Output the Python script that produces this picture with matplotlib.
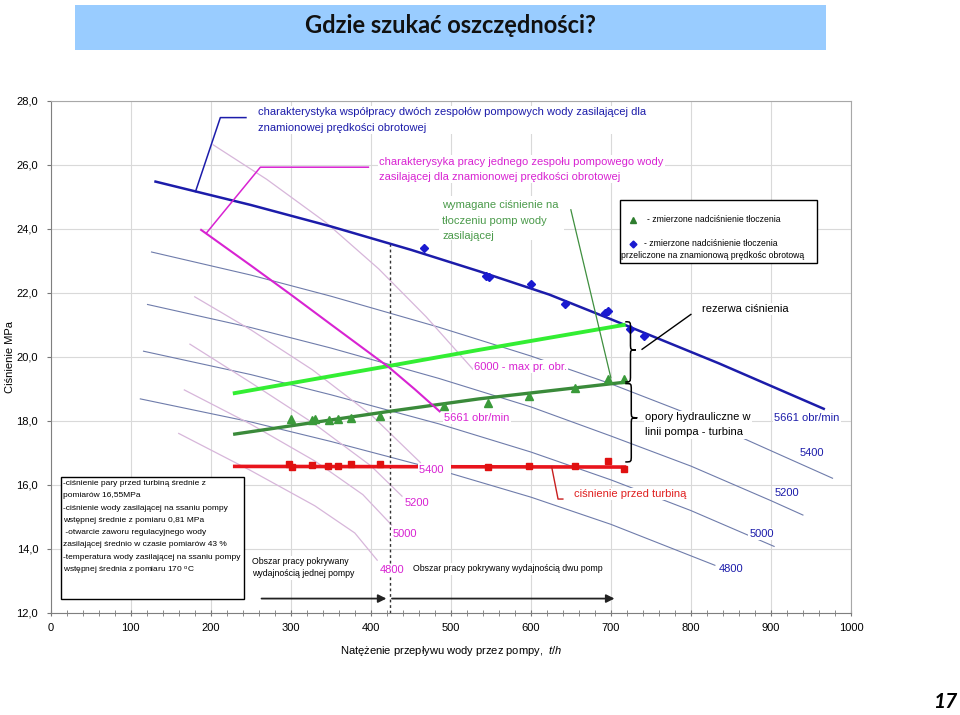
import matplotlib
matplotlib.use('Agg')
import matplotlib.pyplot as plt
from matplotlib.patches import Rectangle, PathPatch
from matplotlib.path import Path
from matplotlib.ticker import FuncFormatter, MultipleLocator

plt.rcParams['font.family'] = ['Liberation Sans', 'DejaVu Sans']
plt.rcParams['mathtext.fontset'] = 'custom'
plt.rcParams['mathtext.rm'] = 'Liberation Sans'
plt.rcParams['mathtext.it'] = 'Liberation Sans:italic'

# charakterystyki dwóch pomp (przepływ t/h, ciśnienie MPa)
q2_5661 = [131, 250, 350, 450, 535, 623, 700, 835, 966]
h2_5661 = [25.48, 24.75, 24.08, 23.35, 22.68, 21.95, 21.18, 19.8, 18.38]
q2_5400 = [126, 250, 350, 485, 600, 700, 800, 900, 977]
h2_5400 = [23.28, 22.56, 21.9, 20.93, 20.03, 19.16, 18.19, 17.07, 16.21]
q2_5200 = [121, 250, 350, 485, 600, 700, 800, 900, 940]
h2_5200 = [21.64, 20.92, 20.28, 19.33, 18.44, 17.53, 16.59, 15.51, 15.06]
q2_5000 = [116, 250, 350, 485, 600, 700, 800, 904]
h2_5000 = [20.18, 19.45, 18.82, 17.91, 17.03, 16.16, 15.2, 14.08]
q2_4800 = [112, 250, 350, 485, 600, 700, 830]
h2_4800 = [18.69, 17.97, 17.36, 16.47, 15.62, 14.77, 13.49]

# charakterystyki jednej pompy
q1_6000 = [203, 270, 344, 410, 469, 530]
h1_6000 = [26.63, 25.55, 24.2, 22.75, 21.26, 19.55]
q1_5661 = [188, 250, 300, 350, 423, 455, 486]
h1_5661 = [23.97, 22.86, 21.95, 21.02, 19.67, 18.99, 18.3]
q1_5400 = [180, 250, 327, 400, 462]
h1_5400 = [21.88, 20.85, 19.6, 18.2, 16.7]
q1_5200 = [174, 250, 330, 400, 439]
h1_5200 = [20.4, 19.2, 17.9, 16.6, 15.65]
q1_5000 = [167, 250, 330, 390, 426]
h1_5000 = [18.97, 17.9, 16.75, 15.7, 14.75]
q1_4800 = [160, 250, 330, 380, 408]
h1_4800 = [17.61, 16.45, 15.35, 14.5, 13.65]

# wymagane / zmierzone / przed turbiną
q_req = [230, 423, 535, 716]
h_req = [18.87, 19.72, 20.22, 21.0]
q_fit = [230, 423, 535, 717]
h_fit = [17.59, 18.3, 18.69, 19.21]
q_turb = [230, 717]
h_turb = [16.58, 16.56]
q_meas = [300, 327, 330, 348, 359, 375, 412, 491, 547, 598, 655, 697, 717]
h_meas = [18.06, 18.03, 18.07, 18.03, 18.05, 18.08, 18.17, 18.47, 18.57, 18.78, 19.04, 19.31, 19.31]
q_conv = [467, 544, 548, 600, 643, 693, 696, 724, 742]
h_conv = [23.42, 22.54, 22.5, 22.29, 21.67, 21.38, 21.43, 20.86, 20.67]
q_tsq = [298, 301, 327, 347, 359, 375, 412, 547, 598, 655, 696, 717]
h_tsq = [16.65, 16.55, 16.63, 16.6, 16.6, 16.64, 16.66, 16.57, 16.6, 16.6, 16.75, 16.51]

BLUE = '#1c1caa'
MAG = '#d823d2'
GREY = '#6f7cab'
PINK = '#d7b6da'
GREEN_T = '#4a9a4a'

fig = plt.figure(figsize=(9.6, 7.15), dpi=100)

# baner z tytułem
fig.patches.append(Rectangle((0.078, 0.930), 0.782, 0.063, transform=fig.transFigure,
                             fc='#99ccff', ec='none'))
fig.text(0.469, 0.965, 'Gdzie szukać oszczędności?', ha='center', va='center',
         fontsize=17, fontweight='bold', family=['Lato', 'DejaVu Sans'], color='#111111')
fig.text(0.997, 0.004, '17', ha='right', va='bottom', fontsize=15, fontweight='bold',
         fontstyle='italic', family=['Lato', 'DejaVu Sans'])

ax = fig.add_axes([0.0528, 0.1427, 0.8336, 0.7161])
ax.set_xlim(0, 1000)
ax.set_ylim(12, 28)
ax.set_axisbelow(True)
ax.grid(True, color='#d9d9d9', lw=0.8)
ax.xaxis.set_major_locator(MultipleLocator(100))
ax.xaxis.set_minor_locator(MultipleLocator(20))
ax.yaxis.set_major_locator(MultipleLocator(2))
ax.yaxis.set_major_formatter(FuncFormatter(lambda v, p: f'{v:.1f}'.replace('.', ',')))
ax.tick_params(axis='x', which='both', direction='inout', length=4, color='#777777',
               labelsize=8, pad=5)
ax.tick_params(axis='y', direction='out', length=3, color='#777777', labelsize=8, pad=6)
for s in ['left', 'bottom']:
    ax.spines[s].set_color('#7f7f7f')
for s in ['top', 'right']:
    ax.spines[s].set_color('#a8a8a8')
ax.set_xlabel('Natężenie przepływu wody przez pompy,  $\\it{t/h}$', fontsize=8, labelpad=8)
ax.set_ylabel('Ciśnienie MPa', fontsize=8)
ax.yaxis.set_label_coords(-0.045, 0.5)

# cienkie charakterystyki
for q, h in [(q2_5400, h2_5400), (q2_5200, h2_5200), (q2_5000, h2_5000), (q2_4800, h2_4800)]:
    ax.plot(q, h, color=GREY, lw=0.8, zorder=2)
for q, h in [(q1_6000, h1_6000), (q1_5400, h1_5400), (q1_5200, h1_5200),
             (q1_5000, h1_5000), (q1_4800, h1_4800)]:
    ax.plot(q, h, color=PINK, lw=0.9, zorder=2)

ax.plot([424, 424], [12, 23.58], color='#333333', lw=1, ls=(0, (2, 2)), zorder=2.5)

ax.plot(q2_5661, h2_5661, color=BLUE, lw=1.8, zorder=3)
ax.plot(q_turb, h_turb, color='#e8141c', lw=2.6, zorder=3)
ax.plot(q_fit, h_fit, color='#3a8a3a', lw=2.4, zorder=3)
ax.plot(q_req, h_req, color='#33ee33', lw=2.8, zorder=3)
ax.plot(q1_5661, h1_5661, color=MAG, lw=1.5, zorder=3.2)

ax.plot(q_tsq, h_tsq, ls='none', marker='s', ms=4, color='#e01010', zorder=4)
ax.plot(q_meas, h_meas, ls='none', marker='^', ms=5.5, color='#3a9a3a', zorder=4)
ax.plot(q_conv, h_conv, ls='none', marker='D', ms=4, color='#1a1ad0', zorder=4)

# linie odniesienia opisów
ax.plot([244, 212, 181], [27.48, 27.48, 25.17], color=BLUE, lw=1.1, zorder=4)
ax.plot([397, 262, 194.5], [25.93, 25.93, 23.87], color=MAG, lw=1.1, zorder=4)
ax.plot([650, 700], [24.6, 19.35], color='#3f8f3f', lw=0.9, zorder=4)
ax.plot([800, 739], [21.33, 20.24], color='black', lw=1, zorder=4)
ax.plot([626, 634, 640], [16.57, 15.56, 15.56], color='#c81e1e', lw=1, zorder=4)


def brace(x, ytop, ybot, ytip, w, r=0.2):
    xm = x + w / 2
    verts = [(x, ytop), (xm, ytop), (xm, ytop), (xm, ytop - r),
             (xm, ytip + r),
             (xm, ytip), (xm, ytip), (x + w, ytip),
             (xm, ytip), (xm, ytip), (xm, ytip - r),
             (xm, ybot + r),
             (xm, ybot), (xm, ybot), (x, ybot)]
    codes = [Path.MOVETO] + [Path.CURVE4] * 3 + [Path.LINETO] + [Path.CURVE4] * 6 + \
            [Path.LINETO] + [Path.CURVE4] * 3
    ax.add_patch(PathPatch(Path(verts, codes), fill=False, ec='black', lw=1.1, zorder=4))


brace(718, 21.1, 19.22, 20.22, 13)
brace(718, 19.17, 16.72, 18.1, 15)

# strzałki obszarów pracy
arr = dict(arrowstyle='-|>', color='#222222', lw=1.3, mutation_scale=12)
ax.annotate('', xy=(423, 12.45), xytext=(260, 12.45), arrowprops=arr, zorder=4)
ax.annotate('', xy=(708, 12.45), xytext=(423, 12.45), arrowprops=arr, zorder=4)

wb = dict(fc='white', ec='none', pad=1.0)
ax.text(258.5, 27.4, 'charakterystyka współpracy dwóch zespołów pompowych wody zasilającej dla\n'
        'znamionowej prędkości obrotowej', color=BLUE, fontsize=8, va='center',
        linespacing=1.7, bbox=wb, zorder=6)
ax.text(410.6, 25.87, 'charakterysyka pracy jednego zespołu pompowego wody\n'
        'zasilającej dla znamionowej prędkości obrotowej', color=MAG, fontsize=8,
        va='center', linespacing=1.62, bbox=wb, zorder=6)

gbox = Rectangle((485, 23.66), 156, 1.37, fc='white', ec='none', zorder=5)
ax.add_patch(gbox)
gt = ax.text(489.5, 24.26, 'wymagane ciśnienie na\ntłoczeniu pomp wody\nzasilającej',
             color=GREEN_T, fontsize=8, va='center', linespacing=1.66, zorder=6)
gt.set_clip_path(gbox)

ax.text(813.7, 21.5, 'rezerwa ciśnienia', fontsize=8, va='center', bbox=wb, zorder=6)
ax.text(743, 17.88, 'opory hydrauliczne w\nlinii pompa - turbina', fontsize=8, va='center',
        linespacing=1.67, bbox=wb, zorder=6)
ax.text(653.7, 15.72, 'ciśnienie przed turbiną', fontsize=8, va='center', color='#e02020',
        bbox=wb, zorder=6)

# etykiety prędkości – jedna pompa
for x, y, s in [(491.6, 18.09, '5661 obr/min'), (529, 19.7, '6000 - max pr. obr.'),
                (460.5, 16.47, '5400  '), (441.8, 15.45, '5200'), (427.2, 14.47, '5000'),
                (410.6, 13.34, '4800')]:
    ax.text(x, y, s, color=MAG, fontsize=8, va='center', bbox=wb, zorder=6)
# etykiety prędkości – dwie pompy
for x, y, s in [(904.3, 18.1, '5661 obr/min'), (936.4, 16.99, '5400'), (904.4, 15.74, '5200'),
                (872.8, 14.47, '5000'), (834.5, 13.375, '4800')]:
    ax.text(x, y, s, color=BLUE, fontsize=8, va='center', bbox=wb, zorder=6)

ax.text(251, 13.41, 'Obszar pracy pokrywany\nwydajnością jednej pompy', fontsize=6.3,
        va='center', linespacing=1.4, bbox=wb, zorder=6)
ax.text(453, 13.375, 'Obszar pracy pokrywany wydajnością dwu pomp', fontsize=6.3,
        va='center', bbox=wb, zorder=6)

# legenda
ax.add_patch(Rectangle((711, 22.95), 246, 1.96, fc='white', ec='black', lw=1, zorder=5))
ax.plot([727.7], [24.28], marker='^', ms=5, color='#2e7d2e', zorder=6)
ax.plot([727.7], [23.52], marker='D', ms=3.5, color='#1a1ad0', zorder=6)
ax.text(744.8, 24.3, '- zmierzone nadciśnienie tłoczenia', fontsize=6.2, va='center', zorder=6)
ax.text(741.9, 23.55, '- zmierzone nadciśnienie tłoczenia', fontsize=6.2, va='center', zorder=6)
ax.text(712.7, 23.17, 'przeliczone na znamionową prędkośc obrotową', fontsize=6.2,
        va='center', zorder=6)

# ramka z warunkami pomiaru
ax.add_patch(Rectangle((13, 12.45), 228.4, 3.81, fc='white', ec='black', lw=1, zorder=5))
ax.text(15.8, 16.15, '-ciśnienie pary przed turbiną średnie z\n'
        'pomiarów 16,55MPa\n'
        '-ciśnienie wody zasilającej na ssaniu pompy\n'
        'wstępnej średnie z pomiaru 0,81 MPa\n'
        ' -otwarcie zaworu regulacyjnego wody\n'
        'zasilającej średnio w czasie pomiarów 43 %\n'
        '-temperatura wody zasilającej na ssaniu pompy',
        fontsize=6, va='top', linespacing=2.05, zorder=6)
ax.text(15.8, 13.32, 'wstępnej średnia z pomiaru 170 $^{\\mathrm{o}}$C', fontsize=6,
        va='center', zorder=6)

fig.savefig('out.png', dpi=100)
